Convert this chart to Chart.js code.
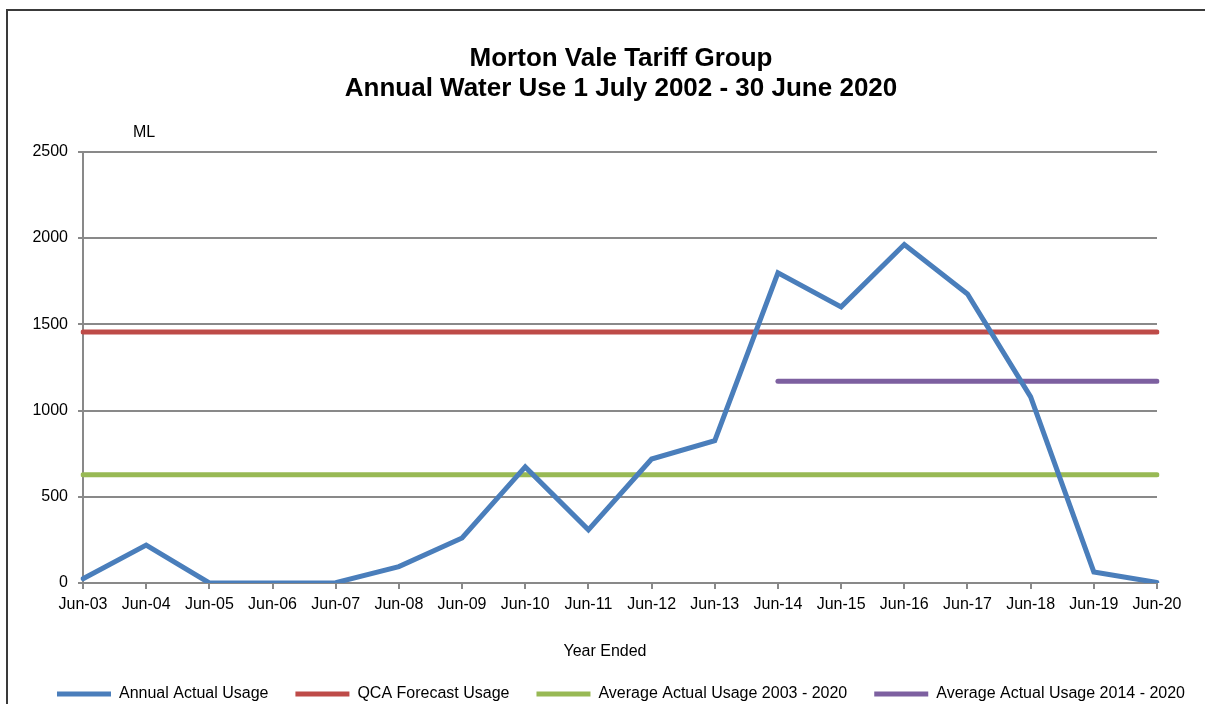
<!DOCTYPE html>
<html lang="en">
<head>
    <meta charset="UTF-8">
    <title>Morton Vale Tariff Group</title>
    <script src="https://cdn.jsdelivr.net/npm/chart.js"></script>
    <style>
        html, body { margin: 0; padding: 0; overflow: hidden; background: #fff; }
        #frame {
            position: absolute; left: 6px; top: 9px;
            width: 1260px; height: 760px;
            border: 2px solid #3a3a3a;
            pointer-events: none;
        }
        /* canvas is a bit wider than the window so the legend centres like the original */
        #chart { position: absolute; left: 0; top: 0; }
    </style>
</head>
<body>
    <canvas id="chart" width="1242" height="704"></canvas>
    <div id="frame"></div>

    <script>
        // data
        const years = ['Jun-03', 'Jun-04', 'Jun-05', 'Jun-06', 'Jun-07', 'Jun-08', 'Jun-09', 'Jun-10', 'Jun-11',
                       'Jun-12', 'Jun-13', 'Jun-14', 'Jun-15', 'Jun-16', 'Jun-17', 'Jun-18', 'Jun-19', 'Jun-20'];
        const actualUsage = [25, 220, 0, 0, 2, 95, 261, 673, 308, 719, 825, 1798, 1601, 1962, 1676, 1079, 64, 3];
        const qcaForecast = [1455, 1455, 1455, 1455, 1455, 1455, 1455, 1455, 1455,
                             1455, 1455, 1455, 1455, 1455, 1455, 1455, 1455, 1455];
        const avg2003_2020 = [628, 628, 628, 628, 628, 628, 628, 628, 628,
                              628, 628, 628, 628, 628, 628, 628, 628, 628];
        const avg2014_2020 = [null, null, null, null, null, null, null, null, null,
                              null, null, 1169, 1169, 1169, 1169, 1169, 1169, 1169];
        const yTicks = [0, 500, 1000, 1500, 2000, 2500];

        const axisGrey = '#898989';
        const font = 'Arial, "Liberation Sans", sans-serif';

        // "ML" over the y axis and "Year Ended" under the x axis
        const extraText = {
            id: 'extraText',
            afterDraw(chart) {
                const c = chart.ctx;
                c.save();
                c.fillStyle = '#000';
                c.font = '16px ' + font;
                c.textAlign = 'center';
                c.textBaseline = 'middle';
                c.fillText('ML', 144, 133);
                c.fillText('Year Ended', 605, 652);
                c.restore();
            }
        };

        function line(label, data, color) {
            return {
                label: label,
                data: data,
                borderColor: color,
                backgroundColor: color,
                borderWidth: 5,
                borderCapStyle: 'round',
                borderJoinStyle: 'miter',
                pointRadius: 0,
                pointHoverRadius: 0,
                tension: 0,
                spanGaps: false
            };
        }

        new Chart(document.getElementById('chart'), {
            type: 'line',
            data: {
                labels: years,
                datasets: [
                    line('Annual Actual Usage', actualUsage, '#4A7EBB'),
                    line('QCA Forecast Usage', qcaForecast, '#BE4B48'),
                    line('Average Actual Usage 2003 - 2020', avg2003_2020, '#98B954'),
                    line('Average Actual Usage 2014 - 2020', avg2014_2020, '#7D60A0')
                ]
            },
            options: {
                responsive: false,
                animation: false,
                layout: { padding: 0 },
                plugins: {
                    title: {
                        display: true,
                        text: ['Morton Vale Tariff Group', 'Annual Water Use 1 July 2002 - 30 June 2020'],
                        color: '#000',
                        font: { family: font, size: 26, weight: 'bold', lineHeight: 1.15 },
                        padding: { top: 44, bottom: 48 }
                    },
                    legend: {
                        position: 'bottom',
                        maxHeight: 45,
                        labels: {
                            color: '#000',
                            font: { family: font, size: 16 },
                            usePointStyle: true,
                            pointStyle: 'line',
                            pointStyleWidth: 54,
                            padding: 27
                        }
                    },
                    tooltip: { enabled: false }
                },
                scales: {
                    x: {
                        offset: false,
                        grid: { drawOnChartArea: false, drawTicks: true, tickLength: 6, color: axisGrey, lineWidth: 2 },
                        border: { color: axisGrey, width: 2 },
                        ticks: { color: '#000', font: { family: font, size: 16 }, padding: 6, maxRotation: 0, autoSkip: false },
                        afterFit(s) { s.height = 76; }
                    },
                    y: {
                        min: 0,
                        max: 2500,
                        afterBuildTicks(s) { s.ticks = yTicks.map(v => ({ value: v })); },
                        grid: { color: axisGrey, lineWidth: 2, drawTicks: true, tickLength: 5 },
                        border: { color: axisGrey, width: 2 },
                        ticks: { color: '#000', font: { family: font, size: 16 }, padding: 10, callback: v => String(v) },
                        afterFit(s) { s.width = 83; }
                    },
                    yRight: {
                        position: 'right',
                        display: true,
                        grid: { display: false },
                        border: { display: false },
                        ticks: { display: false },
                        afterFit(s) { s.width = 85; }
                    }
                }
            },
            plugins: [extraText]
        });
    </script>
</body>
</html>
